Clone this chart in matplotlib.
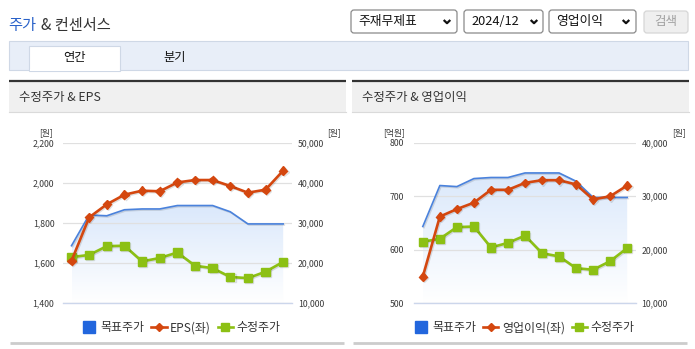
import matplotlib
matplotlib.use('Agg')
import matplotlib.pyplot as plt
import matplotlib.patches as mpatches
import matplotlib.patheffects as pe
from matplotlib.lines import Line2D
from matplotlib.colors import LinearSegmentedColormap
import numpy as np

plt.rcParams['font.family'] = ['Noto Sans CJK KR', 'DejaVu Sans']

# --- data (monthly, 23/04 .. 24/04) ---
months = ['23/04', '23/05', '23/06', '23/07', '23/08', '23/09', '23/10',
          '23/11', '23/12', '24/01', '24/02', '24/03', '24/04']
target_price = [24350, 32000, 31800, 33300, 33500, 33500, 34350,
                34350, 34350, 32800, 29770, 29770, 29770]
adj_price = [21500, 22050, 24230, 24340, 20430, 21290, 22650,
             19360, 18760, 16560, 16270, 17870, 20320]
eps = [1612, 1828, 1893, 1941, 1961, 1958, 2002, 2014, 2014, 1984, 1951, 1966, 2061]
op_income = [550, 662, 676, 688, 712, 712, 725, 730, 730, 722, 694, 700, 720]

RED = '#d4470f'
GREEN = '#8cc014'
BLUE_LINE = '#4a82dc'
BLUE_KEY = '#2266dd'
TXT = '#333333'

W, H = 695, 349
fig = plt.figure(figsize=(W / 100, H / 100), dpi=100)

# background axes in pixel units for the page furniture
bg = fig.add_axes([0, 0, 1, 1])
bg.set_xlim(0, W)
bg.set_ylim(H, 0)
bg.axis('off')


def rect(x0, y0, x1, y1, fc, ec='none', lw=0.8, z=1):
    bg.add_patch(mpatches.Rectangle((x0, y0), x1 - x0, y1 - y0, fc=fc, ec=ec, lw=lw, zorder=z))


def dropdown(x0, x1, label, chev_x):
    bg.add_patch(mpatches.FancyBboxPatch((x0, 10), x1 - x0, 23,
                                         boxstyle='round,pad=0,rounding_size=3',
                                         fc='white', ec='#8a8a8a', lw=0.9))
    bg.text(x0 + 7, 21.5, label, fontsize=9.2, color='#111', va='center', ha='left')
    bg.plot([chev_x - 3.3, chev_x, chev_x + 3.3], [20, 23.2, 20], color='#111', lw=1.6,
            solid_capstyle='butt')


# title
t1 = bg.text(8, 25.5, '주가', fontsize=11, color='#2a62c9', va='center', ha='left')
bg.annotate('& 컨센서스', xy=(1, 0.5), xycoords=t1, xytext=(3.5, 0), textcoords='offset points',
            fontsize=11, color=TXT, va='center', ha='left')

dropdown(351, 457, '주재무제표', 447)
dropdown(464, 543, '2024/12', 534)
dropdown(549, 636, '영업이익', 626)
bg.add_patch(mpatches.FancyBboxPatch((644, 11), 44, 22, boxstyle='round,pad=0,rounding_size=3',
                                     fc='#efefef', ec='#d6d6d6', lw=0.9))
bg.text(666, 22, '검색', fontsize=9, color='#a0a0a0', va='center', ha='center')

# tab bar
rect(9, 41, 688, 69.5, '#e8eef8', '#cfd8e6')
rect(29, 45.5, 120, 70.5, 'white', '#cfd8e6', z=2)
rect(29.6, 68.5, 119.4, 71, 'white', z=3)
bg.text(74.5, 58, '연간', fontsize=8.8, color='#111', va='center', ha='center', zorder=4)
bg.text(175, 58, '분기', fontsize=8.8, color='#111', va='center', ha='center')

# panels
for px0, px1, title in [(9, 346, '수정주가 & EPS'), (352, 689, '수정주가 & 영업이익')]:
    rect(px0, 82, px1, 112, '#f0f0f0')
    bg.plot([px0, px1], [81, 81], color='#333333', lw=1.6, solid_capstyle='butt')
    bg.plot([px0, px1], [112.3, 112.3], color='#dadada', lw=0.8)
    bg.text(px0 + 10, 97, title, fontsize=8.9, color=TXT, va='center', ha='left')
    bg.plot([px0 + 1, px1 - 2], [343, 343], color='#cccccc', lw=2, solid_capstyle='butt')


def make_chart(x0, x1, left_vals, left_name, left_lim, left_ticks, right_lim, right_ticks,
               left_unit, left_unit_x, right_unit_x, left_pad, legend_cx):
    y0, y1 = 142.7, 303.3
    rax = fig.add_axes([x0 / W, 1 - y1 / H, (x1 - x0) / W, (y1 - y0) / H])
    lax = rax.twinx()
    # twinx puts the new axes on the right; swap roles so the left scale sits on top
    lax.yaxis.tick_left()
    rax.yaxis.tick_right()
    lax.set_zorder(rax.get_zorder() + 1)
    lax.patch.set_visible(False)
    rax.patch.set_visible(False)

    x = np.arange(len(months))

    # target price area with vertical gradient
    poly = rax.fill_between(x, target_price, right_lim[0], color='none', lw=0)
    cmap = LinearSegmentedColormap.from_list('g', ['#ffffff', '#dae8fb'])
    grad = np.linspace(0, 1, 256).reshape(-1, 1)
    im = rax.imshow(grad, extent=[x[0], x[-1], right_lim[0], max(target_price)],
                    aspect='auto', cmap=cmap, origin='lower', zorder=0.2)
    im.set_clip_path(poly.get_paths()[0], rax.transData)

    shadow = [pe.SimpleLineShadow(offset=(0.8, -0.8), alpha=0.12, shadow_color='k'), pe.Normal()]
    rax.plot(x, target_price, color=BLUE_LINE, lw=1.2, zorder=2, path_effects=shadow)
    rax.plot(x, adj_price, color=GREEN, lw=1.9, marker='s', ms=6, zorder=3, path_effects=shadow)
    lax.plot(x, left_vals, color=RED, lw=1.9, marker='D', ms=4.3, zorder=3, path_effects=shadow)

    rax.set_xlim(-0.5, len(months) - 0.5)
    rax.set_ylim(*right_lim)
    lax.set_ylim(*left_lim)
    rax.set_yticks(right_ticks)
    rax.set_yticklabels([f'{v:,}' for v in right_ticks])
    lax.set_yticks(left_ticks)
    lax.set_yticklabels([f'{v:,}' for v in left_ticks])

    rax.grid(axis='y', color='#e0e0e0', lw=0.9)
    rax.set_axisbelow(True)
    for a in (rax, lax):
        for s in a.spines.values():
            s.set_visible(False)
    lax.spines['bottom'].set_visible(True)
    lax.spines['bottom'].set_color('#ccd6eb')
    lax.spines['bottom'].set_linewidth(1)

    rax.tick_params(axis='y', length=0, labelsize=6.3, labelcolor='#3a3a3a', pad=4.3)
    lax.tick_params(axis='y', length=0, labelsize=6.3, labelcolor='#3a3a3a', pad=left_pad)

    bounds = [-0.5] + list(np.arange(0.5, len(months), 2)) + [len(months) - 0.5]
    lax.set_xticks(bounds)
    lax.set_xticklabels([''] * len(bounds))
    lax.set_xticks(x[::2], minor=True)
    lax.set_xticklabels(months[::2], minor=True)
    lax.tick_params(axis='x', which='major', length=4, color='#ccd6eb', width=1)
    lax.tick_params(axis='x', which='minor', length=0, pad=4.6, labelsize=6.3, labelcolor='#3a3a3a')
    rax.tick_params(axis='x', which='both', length=0, labelbottom=False)

    bg.text(left_unit_x, 133, left_unit, fontsize=6.3, color='#3a3a3a', ha='center', va='center')
    bg.text(right_unit_x, 133, '[원]', fontsize=6.3, color='#3a3a3a', ha='center', va='center')

    handles = [
        Line2D([], [], color=BLUE_KEY, marker='s', ms=8.5, ls='none'),
        Line2D([], [], color=RED, marker='D', ms=4.3, lw=1.9),
        Line2D([], [], color=GREEN, marker='s', ms=6, lw=1.9),
    ]
    fig.legend(handles, ['목표주가', left_name, '수정주가'], loc='center',
               bbox_to_anchor=(legend_cx / W, 1 - 328 / H), ncol=3, frameon=False,
               fontsize=8.6, handlelength=1.3, handletextpad=0.3, columnspacing=0.55,
               labelcolor=TXT)


make_chart(62.7, 292, eps, 'EPS(좌)', (1400, 2200), [1400, 1600, 1800, 2000, 2200],
           (10000, 50000), [10000, 20000, 30000, 40000, 50000],
           '[원]', 46.5, 334, 6.0, 181)
make_chart(414.3, 635.7, op_income, '영업이익(좌)', (500, 800), [500, 600, 700, 800],
           (10000, 40000), [10000, 20000, 30000, 40000],
           '[억원]', 394, 679, 7.6, 524)

fig.savefig('out.png', dpi=100)
